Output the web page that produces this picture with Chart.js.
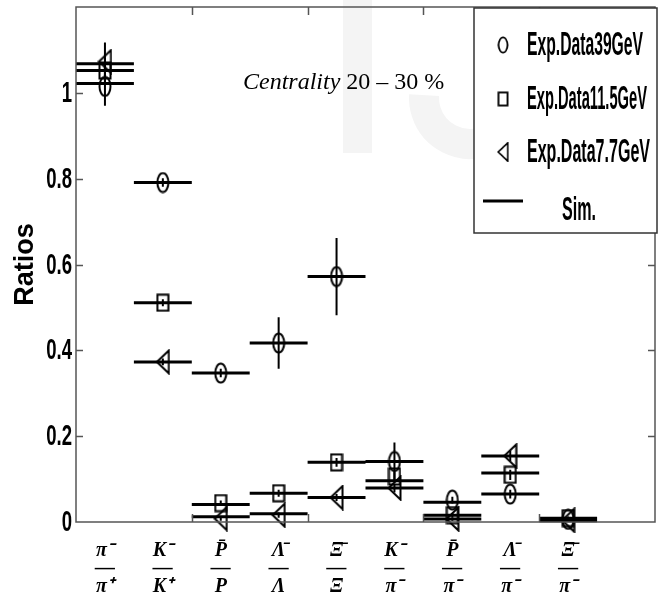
<!DOCTYPE html>
<html>
<head>
<meta charset="utf-8">
<script src="https://cdn.jsdelivr.net/npm/chart.js@4.4.1/dist/chart.umd.min.js"></script>
<style>
  html, body { margin: 0; padding: 0; background: #fff; }
  #wrap { width: 661px; height: 603px; }
</style>
</head>
<body>
<div id="wrap"><canvas id="ratios"></canvas></div>
<script>
// particle ratios on the x axis: numerator, fraction bar, denominator
const categories = [
  ['π⁻', '—', 'π⁺'],
  ['K⁻', '—', 'K⁺'],
  ['P\u0304', '—', 'P'],
  ['Λ\u0304', '—', 'Λ'],
  ['Ξ\u0304', '—', 'Ξ'],
  ['K⁻', '—', 'π⁻'],
  ['P\u0304', '—', 'π⁻'],
  ['Λ\u0304', '—', 'π⁻'],
  ['Ξ\u0304', '—', 'π⁻']
];

// measured ratios (centrality 20-30 %) and their errors
const exp39 = [1.015, 0.791, 0.347, 0.417, 0.572, 0.141, 0.051, 0.065, 0.006];
const err39 = [0.045, 0.010, 0.010, 0.060, 0.090, 0.044, 0.008, 0.010, 0.003];
const exp11 = [1.052, 0.511, 0.044, 0.067, 0.139, 0.106, 0.016, 0.110, 0.009];
const err11 = [0.030, 0.008, 0.006, 0.008, 0.010, 0.012, 0.005, 0.012, 0.004];
const exp7 = [1.073, 0.373, 0.008, 0.016, 0.057, 0.079, 0.007, 0.154, 0.004];
const err7 = [0.044, 0.008, 0.005, 0.006, 0.008, 0.010, 0.004, 0.012, 0.003];

// simulation
const sim39 = [1.022, 0.791, 0.347, 0.417, 0.572, 0.141, 0.046, 0.065, 0.006];
const sim11 = [1.052, 0.511, 0.041, 0.067, 0.139, 0.096, 0.016, 0.114, 0.009];
const sim7 = [1.068, 0.373, 0.012, 0.019, 0.057, 0.079, 0.007, 0.154, 0.003];

const yTicks = [0, 0.2, 0.4, 0.6, 0.8, 1];
const boxTicksX = [2.5, 4.5, 6.5, 8.5];

// no condensed face installed, so squeeze bold sans with fillText maxWidth
const SQUEEZE = 0.64;
const fmtY = v => String(Math.round(v * 10) / 10);

// open markers, taller than wide like in the figure
function marker(kind, w, h) {
  const c = document.createElement('canvas');
  c.width = w; c.height = h;
  const g = c.getContext('2d');
  g.strokeStyle = '#000';
  g.lineWidth = 2;
  g.beginPath();
  if (kind === 'circle') {
    g.ellipse(w / 2, h / 2, w / 2 - 1.5, h / 2 - 1.5, 0, 0, Math.PI * 2);
  } else if (kind === 'rect') {
    g.rect(1.5, 1.5, w - 3, h - 3);
  } else {
    g.moveTo(1.5, h / 2);
    g.lineTo(w - 1.5, 1.5);
    g.lineTo(w - 1.5, h - 1.5);
    g.closePath();
  }
  g.stroke();
  return c;
}
const mCircle = marker('circle', 14, 22);
const mRect = marker('rect', 14, 19);
const mTri = marker('tri', 15, 26);

function points(vals) {
  return vals.map((v, i) => ({x: i + 1, y: v}));
}
function errorBars(vals, errs) {
  const out = [];
  vals.forEach((v, i) => {
    out.push({x: i + 1, y: v - errs[i]}, {x: i + 1, y: v + errs[i]}, {x: i + 1, y: null});
  });
  return out;
}
const simSegs = [];
[sim39, sim11, sim7].forEach(arr => {
  arr.forEach((v, i) => {
    simSegs.push({x: i + 0.5, y: v}, {x: i + 1.5, y: v}, {x: i + 1, y: null});
  });
});

const pointSet = (label, vals, style) => ({
  label: label,
  data: points(vals),
  showLine: false,
  pointStyle: style,
  pointRadius: 5,
  clip: false
});
const lineSet = (label, data, width) => ({
  label: label,
  data: data,
  showLine: true,
  spanGaps: false,
  borderColor: '#000',
  borderWidth: width,
  pointRadius: 0,
  clip: false
});

const framePlugin = {
  id: 'frame',
  beforeDraw(chart) {
    // faint watermark behind the plot
    const ctx = chart.ctx;
    ctx.save();
    ctx.fillStyle = '#f4f4f4';
    ctx.fillRect(343, 0, 29, 153);
    ctx.strokeStyle = '#f4f4f4';
    ctx.lineWidth = 30;
    ctx.beginPath();
    ctx.arc(470, 98, 46, Math.PI * 0.4, Math.PI * 1.02);
    ctx.stroke();
    ctx.restore();
  },
  afterDraw(chart) {
    const ctx = chart.ctx;
    const a = chart.chartArea;
    const xs = chart.scales.x, ys = chart.scales.y;
    ctx.save();
    ctx.strokeStyle = '#555';
    ctx.lineWidth = 1.5;
    ctx.strokeRect(a.left, a.top, a.right - a.left, a.bottom - a.top);
    ctx.beginPath();
    yTicks.slice(1).forEach(v => {
      const py = Math.round(ys.getPixelForValue(v)) + 0.5;
      ctx.moveTo(a.left, py); ctx.lineTo(a.left + 7, py);
      ctx.moveTo(a.right, py); ctx.lineTo(a.right - 7, py);
    });
    boxTicksX.forEach(v => {
      const px = Math.round(xs.getPixelForValue(v)) + 0.5;
      ctx.moveTo(px, a.bottom); ctx.lineTo(px, a.bottom - 8);
      ctx.moveTo(px, a.top); ctx.lineTo(px, a.top + 8);
    });
    ctx.stroke();

    // y tick labels, condensed bold
    ctx.fillStyle = '#000';
    ctx.font = "bold 29px 'Liberation Sans', sans-serif";
    ctx.textAlign = 'right';
    ctx.textBaseline = 'middle';
    ys.ticks.forEach(t => {
      const s = fmtY(t.value);
      ctx.fillText(s, a.left - 4, ys.getPixelForValue(t.value) + 1, ctx.measureText(s).width * SQUEEZE);
    });

    // centrality note
    ctx.textAlign = 'left';
    ctx.textBaseline = 'alphabetic';
    ctx.font = "italic 24px 'Liberation Serif', serif";
    ctx.fillText('Centrality', 243, 89);
    const w = ctx.measureText('Centrality ').width;
    ctx.font = "24px 'Liberation Serif', serif";
    ctx.fillText('20 – 30 %', 243 + w, 89);

    // legend box
    const L = 474, T = 8, W = 183, H = 225;
    ctx.fillStyle = '#fff';
    ctx.fillRect(L, T, W, H);
    ctx.strokeStyle = '#333';
    ctx.lineWidth = 1.5;
    ctx.strokeRect(L, T, W, H);
    const rows = [
      {text: 'Exp.Data39GeV', y: 45, m: mCircle, w: 116},
      {text: 'Exp.Data11.5GeV', y: 99, m: mRect, w: 120},
      {text: 'Exp.Data7.7GeV', y: 152, m: mTri, w: 123}
    ];
    ctx.font = "bold 34px 'Liberation Sans', sans-serif";
    ctx.textBaseline = 'middle';
    ctx.fillStyle = '#000';
    rows.forEach(r => {
      const sw = r.m.width * 0.8, sh = r.m.height * 0.8;
      ctx.drawImage(r.m, 503 - sw / 2, r.y - sh / 2, sw, sh);
      ctx.fillText(r.text, 527, r.y + 1, r.w);
    });
    ctx.lineWidth = 3;
    ctx.strokeStyle = '#000';
    ctx.beginPath();
    ctx.moveTo(483, 201); ctx.lineTo(523, 201);
    ctx.stroke();
    ctx.fillText('Sim.', 562, 211, 34);
    ctx.restore();
  }
};

new Chart(document.getElementById('ratios'), {
  type: 'scatter',
  data: {
    datasets: [
      pointSet('Exp.Data39GeV', exp39, mCircle),
      pointSet('Exp.Data11.5GeV', exp11, mRect),
      pointSet('Exp.Data7.7GeV', exp7, mTri),
      lineSet('err39', errorBars(exp39, err39), 2),
      lineSet('err11', errorBars(exp11, err11), 2),
      lineSet('err7', errorBars(exp7, err7), 2),
      lineSet('Sim.', simSegs, 3)
    ]
  },
  options: {
    responsive: true,
    maintainAspectRatio: false,
    animation: false,
    layout: {padding: {top: 7, right: 1, left: 0, bottom: 0}},
    plugins: {
      legend: {display: false},
      tooltip: {enabled: false}
    },
    scales: {
      x: {
        type: 'linear',
        min: 0.5,
        max: 10.5,
        afterBuildTicks: s => { s.ticks = categories.map((c, i) => ({value: i + 1})); },
        afterFit: s => { s.height = 81; },
        grid: {display: false},
        border: {display: false},
        ticks: {
          autoSkip: false,
          maxRotation: 0,
          padding: 12,
          color: '#000',
          font: {family: "'Liberation Serif', serif", size: 20, style: 'italic', weight: 'bold', lineHeight: 0.9},
          callback: (v, i) => categories[i]
        }
      },
      y: {
        min: 0,
        max: 1.2,
        afterBuildTicks: s => { s.ticks = yTicks.map(v => ({value: v})); },
        afterFit: s => { s.width = 76; },
        grid: {display: false},
        border: {display: false},
        ticks: {display: false, callback: fmtY},
        title: {
          display: true,
          text: 'Ratios',
          color: '#000',
          font: {family: "'Liberation Sans', sans-serif", size: 27, weight: 'bold'},
          padding: {top: 9}
        }
      }
    }
  },
  plugins: [framePlugin]
});
</script>
</body>
</html>
